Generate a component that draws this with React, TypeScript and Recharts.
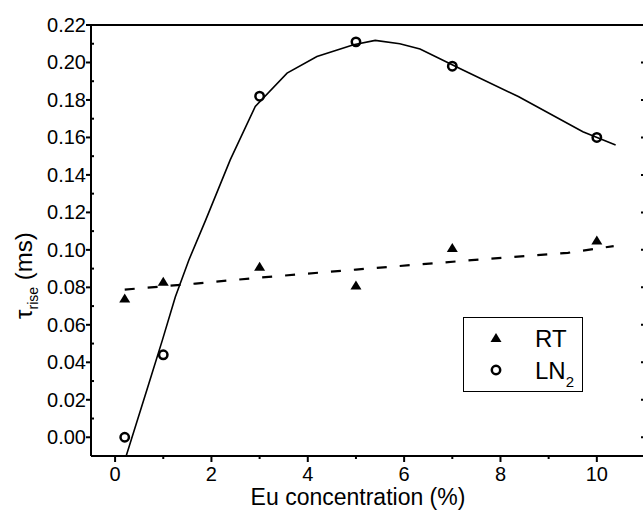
import { ComposedChart, Line, Scatter, XAxis, YAxis, Legend } from 'recharts';

// measured rise times (ms) vs Eu concentration (%)
const concentration = [0.2, 1, 3, 5, 7, 10];
const tauRT = [0.074, 0.083, 0.091, 0.081, 0.101, 0.105];
const tauLN2 = [0.0, 0.044, 0.182, 0.211, 0.198, 0.16];

// fitted curves, sampled along the drawn lines
const rtFitX = [0.2, 1.67, 3, 5, 7.4, 9.4, 10.35];
const rtFitY = [0.0788, 0.082, 0.0852, 0.0895, 0.0945, 0.0984, 0.102];
const ln2FitX = [0.23, 0.7, 0.98, 1.25, 1.53, 1.88, 2.39, 2.91, 3.57, 4.19, 4.95, 5.4, 5.91, 6.33, 7.22, 8.37, 9.71, 10.39];
const ln2FitY = [-0.01, 0.0286, 0.0517, 0.0749, 0.0945, 0.1159, 0.148, 0.1765, 0.1943, 0.2032, 0.2095, 0.2118, 0.21, 0.2072, 0.196, 0.1818, 0.163, 0.156];

const xTicks = [0, 2, 4, 6, 8, 10];
const xMinorTicks = [1, 3, 5, 7, 9];
const yTicks = [0, 0.02, 0.04, 0.06, 0.08, 0.1, 0.12, 0.14, 0.16, 0.18, 0.2, 0.22];
const yMinorTicks = [0.01, 0.03, 0.05, 0.07, 0.09, 0.11, 0.13, 0.15, 0.17, 0.19, 0.21];

const zip = (xs: number[], ys: number[]) => xs.map((x, i) => ({ x, y: ys[i] }));

const rtPoints = zip(concentration, tauRT);
const ln2Points = zip(concentration, tauLN2);
const rtFit = zip(rtFitX, rtFitY);
const ln2Fit = zip(ln2FitX, ln2FitY);

const allX = [...xTicks, ...xMinorTicks].sort((a, b) => a - b);
const allY = [...yTicks, ...yMinorTicks].sort((a, b) => a - b);

const FONT = '"Liberation Sans", Arial, Helvetica, sans-serif';
const X_DOMAIN = [-0.5, 11];
const Y_DOMAIN = [-0.01, 0.22];

const isMajorY = (v: number) => yTicks.some((t) => Math.abs(t - v) < 1e-9);
const isMajorX = (v: number) => xTicks.includes(v);

function BottomTick({ x, y, payload }: any) {
  const major = isMajorX(payload.value);
  return (
    <g>
      <line x1={x} y1={y} x2={x} y2={y + (major ? 6 : 3)} stroke="#000" strokeWidth={2} />
      {major && (
        <text x={x} y={y + 25} textAnchor="middle" fontSize={20} fontFamily={FONT} fill="#000">
          {payload.value}
        </text>
      )}
    </g>
  );
}

function TopTick({ x, y, payload }: any) {
  const major = isMajorX(payload.value);
  return <line x1={x} y1={y} x2={x} y2={y + (major ? 6 : 3)} stroke="#000" strokeWidth={2} />;
}

function LeftTick({ x, y, payload }: any) {
  const major = isMajorY(payload.value);
  if (!major) return <line x1={x} y1={y} x2={x + 3} y2={y} stroke="#000" strokeWidth={2} />;
  return (
    <g>
      <line x1={x - 5} y1={y} x2={x} y2={y} stroke="#000" strokeWidth={2} />
      <text x={x - 5} y={y + 7} textAnchor="end" fontSize={20} fontFamily={FONT} fill="#000">
        {payload.value.toFixed(2)}
      </text>
    </g>
  );
}

function RightTick({ x, y }: any) {
  return <line x1={x - 4} y1={y} x2={x} y2={y} stroke="#000" strokeWidth={2} />;
}

function XTitle() {
  return (
    <text x={358} y={505} textAnchor="middle" fontSize={23} fontFamily={FONT} fill="#000">
      Eu concentration (%)
    </text>
  );
}

function YTitle() {
  return (
    <text transform="translate(32,319) rotate(-90)" fontSize={24} fontFamily={FONT} fill="#000">
      τ
      <tspan fontSize={14} dy={6}>rise</tspan>
      <tspan dy={-6}> (ms)</tspan>
    </text>
  );
}

function Triangle({ cx, cy }: any) {
  return <polygon points={`${cx - 5.5},${cy + 4} ${cx + 5.5},${cy + 4} ${cx},${cy - 5}`} fill="#000" />;
}

function Ring({ cx, cy }: any) {
  return <circle cx={cx} cy={cy} r={4.2} fill="none" stroke="#000" strokeWidth={2.5} />;
}

function LegendBox() {
  return (
    <svg width={120} height={76} style={{ display: 'block' }}>
      <rect x={0.5} y={0.5} width={119} height={74} fill="#fff" stroke="#000" strokeWidth={1} />
      <Triangle cx={33} cy={21} />
      <text x={72} y={30} fontSize={24} fontFamily={FONT} fill="#000">RT</text>
      <Ring cx={33} cy={53} />
      <text x={72} y={62} fontSize={24} fontFamily={FONT} fill="#000">
        LN<tspan fontSize={15} dy={8}>2</tspan>
      </text>
    </svg>
  );
}

export default function App() {
  return (
    <div style={{ position: 'absolute', left: 0, top: 0, width: 643, height: 512, overflow: 'hidden', background: '#fff' }}>
      <ComposedChart width={661} height={512} margin={{ top: 0, right: 0, bottom: 0, left: 0 }}>
        <XAxis
          xAxisId="bottom"
          type="number"
          dataKey="x"
          orientation="bottom"
          height={56}
          domain={X_DOMAIN}
          allowDataOverflow
          ticks={allX}
          interval={0}
          tickSize={0}
          tickMargin={0}
          tickLine={false}
          axisLine={{ stroke: '#000', strokeWidth: 2 }}
          tick={<BottomTick />}
          label={<XTitle />}
        />
        <XAxis
          xAxisId="top"
          type="number"
          orientation="top"
          height={25}
          domain={X_DOMAIN}
          allowDataOverflow
          ticks={allX}
          interval={0}
          tickSize={0}
          tickMargin={0}
          tickLine={false}
          axisLine={{ stroke: '#000', strokeWidth: 2 }}
          tick={<TopTick />}
        />
        <YAxis
          yAxisId="left"
          type="number"
          dataKey="y"
          orientation="left"
          width={91}
          domain={Y_DOMAIN}
          allowDataOverflow
          ticks={allY}
          interval={0}
          tickSize={0}
          tickMargin={0}
          tickLine={false}
          axisLine={{ stroke: '#000', strokeWidth: 2 }}
          tick={<LeftTick />}
          label={<YTitle />}
        />
        <YAxis
          yAxisId="right"
          type="number"
          orientation="right"
          width={16}
          domain={Y_DOMAIN}
          allowDataOverflow
          ticks={yTicks}
          interval={0}
          tickSize={0}
          tickMargin={0}
          tickLine={false}
          axisLine={{ stroke: '#000', strokeWidth: 2 }}
          tick={<RightTick />}
        />
        <Line
          xAxisId="bottom"
          yAxisId="left"
          data={ln2Fit}
          dataKey="y"
          type="linear"
          stroke="#000"
          strokeWidth={1.6}
          dot={false}
          activeDot={false}
          isAnimationActive={false}
        />
        <Line
          xAxisId="bottom"
          yAxisId="left"
          data={rtFit}
          dataKey="y"
          type="linear"
          stroke="#000"
          strokeWidth={2.2}
          strokeDasharray="10 13"
          dot={false}
          activeDot={false}
          isAnimationActive={false}
        />
        <Scatter
          xAxisId="bottom"
          yAxisId="left"
          name="RT"
          data={rtPoints}
          dataKey="y"
          shape={<Triangle />}
          isAnimationActive={false}
        />
        <Scatter
          xAxisId="bottom"
          yAxisId="left"
          name="LN2"
          data={ln2Points}
          dataKey="y"
          shape={<Ring />}
          isAnimationActive={false}
        />
        <Legend
          layout="horizontal"
          verticalAlign="middle"
          align="center"
          content={() => <LegendBox />}
          wrapperStyle={{ left: 463, top: 317, width: 120, height: 76 }}
        />
      </ComposedChart>
    </div>
  );
}
